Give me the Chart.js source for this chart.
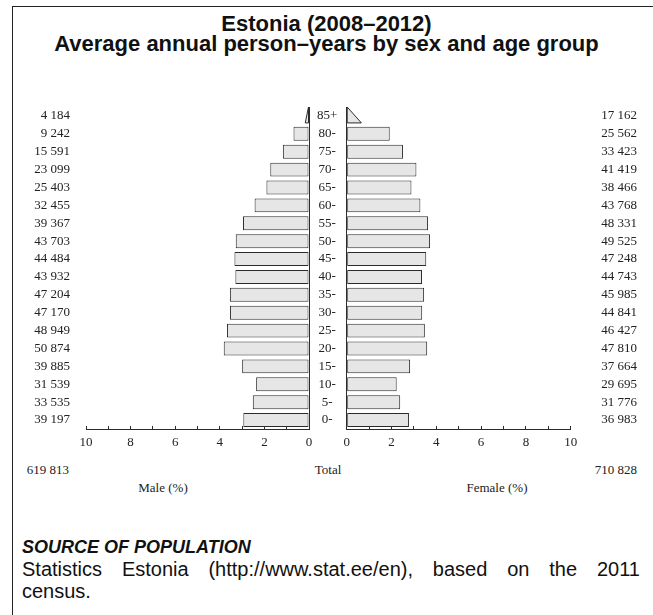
<!DOCTYPE html>
<html>
<head>
<meta charset="utf-8">
<script src="https://cdn.jsdelivr.net/npm/chart.js@4.4.1/dist/chart.umd.min.js"></script>
<style>
  body { margin: 0; background: #fff; }
  #page { position: relative; width: 653px; height: 615px; overflow: hidden; background: #fff; }
  #frame { position: absolute; left: 12px; top: 6px; width: 660px; height: 620px;
           border-left: 1px solid #222; border-top: 1px solid #222; }
  .title { position: absolute; left: 0; width: 653px; text-align: center;
           font: bold 22px "Liberation Sans", Arial, sans-serif; line-height: 20px; color: #111; }
  .lab { position: absolute; font: 13px "Liberation Serif", "Times New Roman", serif;
         line-height: 16px; color: #222; white-space: nowrap; }
  canvas { position: absolute; }
  .src { position: absolute; left: 22px; width: 618px; color: #111;
         font: 20px "Liberation Sans", Arial, sans-serif; line-height: 22px; }
</style>
</head>
<body>
<div id="page">
  <div id="frame"></div>
  <div class="title" style="top:14px">Estonia (2008–2012)<br>Average annual person–years by sex and age group</div>

  <canvas id="male" width="346" height="350" style="left:0;top:100px"></canvas>
  <canvas id="female" width="323" height="350" style="left:330px;top:100px"></canvas>

  <div class="lab" style="top:462px;right:584px">619 813</div>
  <div class="lab" style="top:462px;left:278px;width:100px;text-align:center">Total</div>
  <div class="lab" style="top:462px;right:16px">710 828</div>
  <div class="lab" style="top:480px;left:113px;width:100px;text-align:center">Male (%)</div>
  <div class="lab" style="top:480px;left:447px;width:100px;text-align:center">Female (%)</div>

  <div class="src" style="top:536px;font-size:18px;font-weight:bold;font-style:italic">SOURCE OF POPULATION</div>
  <div class="src" style="top:558px;text-align:justify;text-align-last:justify">Statistics Estonia (http://www.stat.ee/en), based on the 2011</div>
  <div class="src" style="top:580px">census.</div>
</div>
<script>
// age groups, bottom (0-) to top (85+)
var ages = ["0-", "5-", "10-", "15-", "20-", "25-", "30-", "35-", "40-",
  "45-", "50-", "55-", "60-", "65-", "70-", "75-", "80-", "85+"];
var maleCounts = [39197, 33535, 31539, 39885, 50874, 48949, 47170, 47204, 43932,
  44484, 43703, 39367, 32455, 25403, 23099, 15591, 9242, 4184];
var femaleCounts = [36983, 31776, 29695, 37664, 47810, 46427, 44841, 45985, 44743,
  47248, 49525, 48331, 43768, 38466, 41419, 33423, 25562, 17162];
var maleTotal = 619813;
var femaleTotal = 710828;
var xTicks = [0, 2, 4, 6, 8, 10];

var fill = "#e6e6e6";
var edge = "#2b2b2b";
var serif = "'Liberation Serif', 'Times New Roman', serif";
var last = ages.length - 1;

function fmt(n) {
  return String(n).replace(/\B(?=(\d{3})+(?!\d))/g, " ");
}
function pct(counts) {
  var all = maleTotal + femaleTotal;
  return counts.map(function (c) { return (c / all) * 100; });
}

// open-ended top group is drawn as a triangle instead of a bar
var trianglePlugin = {
  id: "topTriangle",
  afterDatasetsDraw: function (chart) {
    var el = chart.getDatasetMeta(0).data[last];
    var p = el.getProps(["x", "y", "base", "height"], true);
    var ctx = chart.ctx;
    var top = chart.chartArea.top;
    var bottom = p.y + p.height / 2;
    var tip = p.base + (p.x - p.base) / 2;
    ctx.save();
    ctx.beginPath();
    ctx.moveTo(p.base, top);
    ctx.lineTo(p.base, bottom);
    ctx.lineTo(tip, bottom);
    ctx.closePath();
    ctx.fillStyle = fill;
    ctx.fill();
    ctx.lineWidth = 1;
    ctx.strokeStyle = edge;
    ctx.stroke();
    ctx.restore();
  },
};

function fixWidth(w) {
  return function (scale) {
    scale.width = w;
    scale.paddingTop = 0;
    scale.paddingBottom = 0;
  };
}

function xAxis(reverse) {
  return {
    type: "linear",
    reverse: reverse,
    min: 0,
    max: 10,
    afterFit: function (scale) { scale.height = 21; },
    border: { display: true, color: edge, width: 1 },
    grid: { drawOnChartArea: false, drawTicks: true, tickLength: -3, color: edge },
    ticks: {
      stepSize: 1,
      autoSkip: false,
      maxRotation: 0,
      padding: 9,
      color: "#222",
      font: { family: serif, size: 13 },
      callback: function (v) { return xTicks.indexOf(v) >= 0 ? String(v) : ""; },
    },
  };
}

function barSet(data) {
  return {
    data: data,
    backgroundColor: function (c) { return c.dataIndex === last ? "rgba(0,0,0,0)" : fill; },
    borderColor: function (c) { return c.dataIndex === last ? "rgba(0,0,0,0)" : edge; },
    borderWidth: 1,
    borderSkipped: false,
    barPercentage: 0.78,
    categoryPercentage: 1,
    yAxisID: "y",
  };
}

var common = {
  responsive: false,
  animation: false,
  indexAxis: "y",
  plugins: { legend: { display: false }, tooltip: { enabled: false } },
};

// Male side
new Chart(document.getElementById("male").getContext("2d"), {
  type: "bar",
  data: { labels: ages, datasets: [barSet(pct(maleCounts))] },
  plugins: [trianglePlugin],
  options: Object.assign({}, common, {
    layout: { padding: { top: 7, bottom: 0, left: 0, right: 0 } },
    scales: {
      x: xAxis(true),
      y: {
        type: "category",
        position: "left",
        reverse: true,
        offset: true,
        afterFit: fixWidth(86),
        border: { display: false },
        grid: { display: false, drawTicks: false },
        ticks: {
          autoSkip: false,
          padding: 16,
          crossAlign: "near",
          color: "#222",
          font: { family: serif, size: 13 },
          callback: function (v, i) { return fmt(maleCounts[i]); },
        },
      },
      y2: {
        type: "category",
        position: "right",
        reverse: true,
        offset: true,
        afterFit: fixWidth(37),
        border: { display: true, color: edge, width: 1 },
        grid: { display: false, drawTicks: false },
        ticks: {
          autoSkip: false,
          padding: 8,
          crossAlign: "center",
          color: "#222",
          font: { family: serif, size: 13 },
        },
      },
    },
  }),
});

// Female side
new Chart(document.getElementById("female").getContext("2d"), {
  type: "bar",
  data: { labels: ages, datasets: [barSet(pct(femaleCounts))] },
  plugins: [trianglePlugin],
  options: Object.assign({}, common, {
    layout: { padding: { top: 7, bottom: 0, left: 16.7, right: 16 } },
    scales: {
      x: xAxis(false),
      y: {
        type: "category",
        position: "left",
        reverse: true,
        offset: true,
        afterFit: fixWidth(0),
        border: { display: true, color: edge, width: 1 },
        grid: { display: false, drawTicks: false },
        ticks: { display: false },
      },
      y2: {
        type: "category",
        position: "right",
        reverse: true,
        offset: true,
        afterFit: fixWidth(66.3),
        border: { display: false },
        grid: { display: false, drawTicks: false },
        ticks: {
          autoSkip: false,
          padding: 0,
          crossAlign: "far",
          color: "#222",
          font: { family: serif, size: 13 },
          callback: function (v, i) { return fmt(femaleCounts[i]); },
        },
      },
    },
  }),
});
</script>
</body>
</html>
